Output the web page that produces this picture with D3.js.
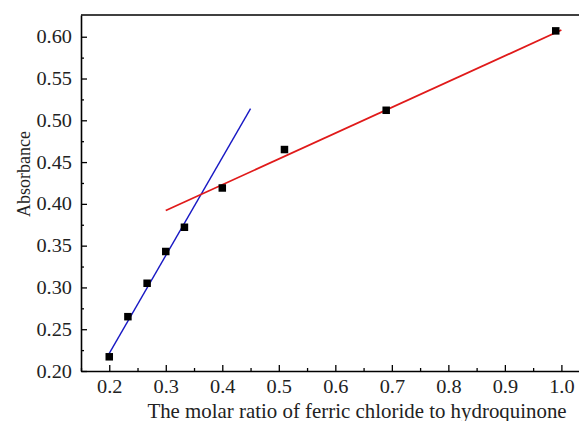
<!DOCTYPE html>
<html lang="en">
<head>
    <meta charset="UTF-8">
    <title>Absorbance vs molar ratio</title>
    <script src="https://d3js.org/d3.v7.min.js"></script>
    <style>
        body { margin: 0; background: #fff; }
        .axis text {
            font-family: 'Liberation Serif', 'Times New Roman', serif;
            font-size: 19px;
            fill: #222;
        }
        .axis-label {
            font-family: 'Liberation Serif', 'Times New Roman', serif;
            font-size: 20px;
            fill: #222;
        }
    </style>
</head>
<body>
    <svg id="chart" width="579" height="421"></svg>
    <script>
        // measured points
        const ratios = [0.2, 0.233, 0.267, 0.3, 0.333, 0.4, 0.51, 0.69, 0.99];
        const absorbance = [0.217, 0.265, 0.305, 0.343, 0.372, 0.419, 0.465, 0.512, 0.607];

        // fit lines (end points)
        const blueFitX = [0.2, 0.45];
        const blueFitY = [0.221, 0.514];
        const redFitX = [0.3, 1.0];
        const redFitY = [0.392, 0.608];

        const xTicks = [0.2, 0.3, 0.4, 0.5, 0.6, 0.7, 0.8, 0.9, 1.0];
        const yTicks = [0.20, 0.25, 0.30, 0.35, 0.40, 0.45, 0.50, 0.55, 0.60];

        const plotLeft = 81, plotTop = 15, plotBottom = 371, plotRight = 584;
        const stretch = 1.07; // the original text looks a bit wide
        const svg = d3.select("#chart");

        const x = d3.scaleLinear().domain([0.15, 1.04]).range([plotLeft, plotRight]);
        const y = d3.scaleLinear().domain([0.2, 0.626]).range([plotBottom, plotTop]);

        // minor ticks
        const xMinor = d3.range(0.15, 1.04, 0.05).filter(v => !xTicks.some(t => Math.abs(t - v) < 1e-6));
        const yMinor = d3.range(0.225, 0.6, 0.05);

        svg.append("g")
            .attr("transform", `translate(0,${plotBottom})`)
            .call(d3.axisBottom(x).tickValues(xMinor).tickSize(-3).tickFormat(""))
            .call(g => g.select(".domain").remove())
            .selectAll("line").attr("stroke", "#000").attr("stroke-width", 1.3);

        svg.append("g")
            .attr("transform", `translate(${plotLeft},0)`)
            .call(d3.axisLeft(y).tickValues(yMinor).tickSize(-3).tickFormat(""))
            .call(g => g.select(".domain").remove())
            .selectAll("line").attr("stroke", "#000").attr("stroke-width", 1.3);

        const xAxis = svg.append("g")
            .attr("class", "axis")
            .attr("transform", `translate(0,${plotBottom})`)
            .call(d3.axisBottom(x).tickValues(xTicks).tickSizeInner(-6).tickSizeOuter(0)
                .tickPadding(9).tickFormat(d3.format(".1f")));
        xAxis.select(".domain").attr("stroke-width", 1.6);
        xAxis.selectAll("line").attr("stroke-width", 1.3);
        xAxis.selectAll("text").attr("transform", `scale(${stretch},1)`);

        const yAxis = svg.append("g")
            .attr("class", "axis")
            .attr("transform", `translate(${plotLeft},0)`)
            .call(d3.axisLeft(y).tickValues(yTicks).tickSizeInner(-6).tickSizeOuter(0)
                .tickPadding(9).tickFormat(d3.format(".2f")));
        yAxis.select(".domain").attr("stroke-width", 1.6);
        yAxis.selectAll("line").attr("stroke-width", 1.3);
        yAxis.selectAll("text")
            .attr("x", -9 / stretch)
            .attr("transform", `scale(${stretch},1)`);

        // top frame
        svg.append("line")
            .attr("x1", plotLeft).attr("x2", plotRight)
            .attr("y1", plotTop).attr("y2", plotTop)
            .attr("stroke", "#000").attr("stroke-width", 1.6);

        const line = d3.line().x(d => x(d[0])).y(d => y(d[1]));

        svg.append("path")
            .datum(blueFitX.map((v, i) => [v, blueFitY[i]]))
            .attr("d", line)
            .attr("fill", "none")
            .attr("stroke", "#1818c4")
            .attr("stroke-width", 1.4);

        svg.append("path")
            .datum(redFitX.map((v, i) => [v, redFitY[i]]))
            .attr("d", line)
            .attr("fill", "none")
            .attr("stroke", "#e01a1a")
            .attr("stroke-width", 1.8);

        const s = 7.5;
        svg.append("g").selectAll("rect")
            .data(ratios.map((v, i) => [v, absorbance[i]]))
            .join("rect")
            .attr("x", d => x(d[0]) - s / 2)
            .attr("y", d => y(d[1]) - s / 2)
            .attr("width", s)
            .attr("height", s)
            .attr("fill", "#000");

        svg.append("text")
            .attr("class", "axis-label")
            .attr("text-anchor", "middle")
            .attr("transform", "translate(357,418) scale(1.045,1)")
            .text("The molar ratio of ferric chloride to hydroquinone");

        svg.append("text")
            .attr("class", "axis-label")
            .attr("text-anchor", "middle")
            .style("font-size", "18px")
            .attr("transform", "translate(30,174) rotate(-90)")
            .text("Absorbance");
    </script>
</body>
</html>
